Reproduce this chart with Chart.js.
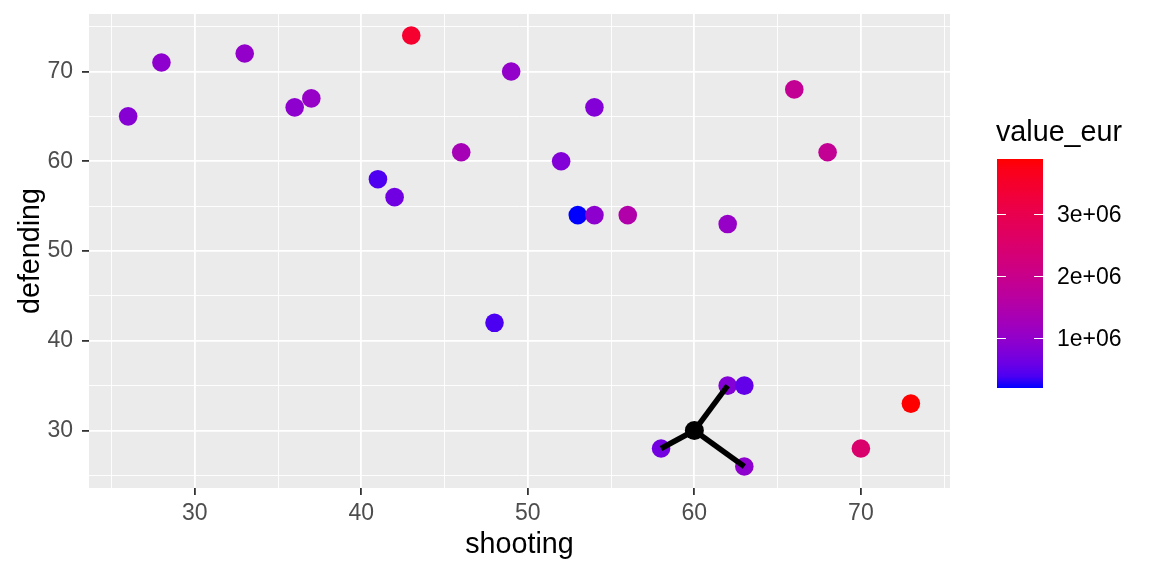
<!DOCTYPE html>
<html lang="en">
<head>
    <meta charset="UTF-8">
    <title>shooting vs defending</title>
    <script src="https://cdn.jsdelivr.net/npm/chart.js"></script>
    <style>
        html, body { margin: 0; padding: 0; background: #fff; }
        canvas { display: block; }
    </style>
</head>
<body>
    <canvas id="knnChart" width="1152" height="576"></canvas>

    <script>
        // Players: shooting (x), defending (y), market value (colour)
        const shooting  = [26, 28, 33, 36, 37, 41, 42, 43, 46, 48, 49, 52, 53, 54, 54, 56, 62, 62, 63, 58, 63, 66, 68, 70, 73];
        const defending = [65, 71, 72, 66, 67, 58, 56, 74, 61, 42, 70, 60, 54, 54, 66, 54, 53, 35, 35, 28, 26, 68, 61, 28, 33];
        const valueEur  = [850000, 950000, 1000000, 950000, 1050000, 400000, 630000, 3450000, 1300000, 380000,
                           1000000, 800000, 190000, 950000, 820000, 1500000, 1050000, 820000, 520000, 650000,
                           950000, 1850000, 1850000, 2500000, 3890000];

        // New observation and its three nearest neighbours
        const queryX = 60;
        const queryY = 30;
        const nbrX = [62, 58, 63];
        const nbrY = [35, 28, 26];

        // Colour bar ticks
        const legendTicks = [1000000, 2000000, 3000000];
        const legendLabels = ['1e+06', '2e+06', '3e+06'];

        const vMin = Math.min(...valueEur);
        const vMax = Math.max(...valueEur);

        // blue -> red gradient interpolated in CIELAB, like scale_colour_gradient
        function toLinear(c) { c /= 255; return c <= 0.04045 ? c / 12.92 : Math.pow((c + 0.055) / 1.055, 2.4); }
        function fromLinear(c) {
            c = c <= 0.0031308 ? 12.92 * c : 1.055 * Math.pow(c, 1 / 2.4) - 0.055;
            return Math.round(Math.min(1, Math.max(0, c)) * 255);
        }
        function rgbToLab(r, g, b) {
            r = toLinear(r); g = toLinear(g); b = toLinear(b);
            let x = (0.4124 * r + 0.3576 * g + 0.1805 * b) / 0.95047;
            let y = (0.2126 * r + 0.7152 * g + 0.0722 * b);
            let z = (0.0193 * r + 0.1192 * g + 0.9505 * b) / 1.08883;
            const f = t => t > 0.008856 ? Math.cbrt(t) : 7.787 * t + 16 / 116;
            x = f(x); y = f(y); z = f(z);
            return [116 * y - 16, 500 * (x - y), 200 * (y - z)];
        }
        function labToRgb(L, a, bb) {
            const fy = (L + 16) / 116, fx = fy + a / 500, fz = fy - bb / 200;
            const inv = t => t > 0.206893 ? t * t * t : (t - 16 / 116) / 7.787;
            const x = inv(fx) * 0.95047, y = inv(fy), z = inv(fz) * 1.08883;
            const r = 3.2406 * x - 1.5372 * y - 0.4986 * z;
            const g = -0.9689 * x + 1.8758 * y + 0.0415 * z;
            const b = 0.0557 * x - 0.2040 * y + 1.0570 * z;
            return 'rgb(' + fromLinear(r) + ',' + fromLinear(g) + ',' + fromLinear(b) + ')';
        }
        const labLow = rgbToLab(0, 0, 255);
        const labHigh = rgbToLab(255, 0, 0);
        function valueColour(v) {
            const t = Math.min(1, Math.max(0, (v - vMin) / (vMax - vMin)));
            return labToRgb(
                labLow[0] + (labHigh[0] - labLow[0]) * t,
                labLow[1] + (labHigh[1] - labLow[1]) * t,
                labLow[2] + (labHigh[2] - labLow[2]) * t
            );
        }

        const players = shooting.map((s, i) => ({ x: s, y: defending[i] }));
        const playerColours = valueEur.map(valueColour);

        const segmentSets = nbrX.map((nx, i) => ({
            type: 'line',
            data: [{ x: queryX, y: queryY }, { x: nx, y: nbrY[i] }],
            borderColor: '#000000',
            borderWidth: 5.5,
            borderCapStyle: 'butt',
            pointRadius: 0,
            fill: false,
            order: 1
        }));

        // grey panel
        const panelBg = {
            id: 'panelBg',
            beforeDraw(chart) {
                const a = chart.chartArea;
                const c = chart.ctx;
                c.save();
                c.fillStyle = '#EBEBEB';
                c.fillRect(a.left, a.top, a.right - a.left, a.bottom - a.top);
                c.restore();
            }
        };

        // colour bar legend on the right
        const colourBar = {
            id: 'colourBar',
            afterDraw(chart) {
                const c = chart.ctx;
                const left = 997, width = 46, top = 159, bottom = 388;
                const yOf = v => bottom - (v - vMin) / (vMax - vMin) * (bottom - top);
                c.save();
                const grad = c.createLinearGradient(0, bottom, 0, top);
                for (let k = 0; k <= 20; k++) {
                    grad.addColorStop(k / 20, valueColour(vMin + (vMax - vMin) * k / 20));
                }
                c.fillStyle = grad;
                c.fillRect(left, top, width, bottom - top);

                c.strokeStyle = '#FFFFFF';
                c.lineWidth = 1.1;
                c.fillStyle = '#000000';
                c.font = '23px "Liberation Sans", Arial, sans-serif';
                c.textAlign = 'left';
                c.textBaseline = 'middle';
                legendTicks.forEach((v, i) => {
                    const y = Math.round(yOf(v)) + 0.5;
                    c.beginPath();
                    c.moveTo(left, y); c.lineTo(left + 9, y);
                    c.moveTo(left + width - 9, y); c.lineTo(left + width, y);
                    c.stroke();
                    c.fillText(legendLabels[i], 1057, y + 1);
                });

                c.font = '28.7px "Liberation Sans", Arial, sans-serif';
                c.textBaseline = 'alphabetic';
                c.fillText('value_eur', 996, 141);
                c.restore();
            }
        };

        const isMajor = v => Math.abs(v % 10) < 1e-6;

        function axis(min, max, title, titlePad) {
            return {
                type: 'linear',
                min: min,
                max: max,
                border: { display: false },
                grid: {
                    color: '#FFFFFF',
                    lineWidth: ctx => isMajor(ctx.tick.value) ? 1.8 : 0.9,
                    tickColor: ctx => isMajor(ctx.tick.value) ? '#333333' : 'rgba(0,0,0,0)',
                    tickWidth: 1.8,
                    tickLength: 7
                },
                ticks: {
                    stepSize: 5,
                    includeBounds: false,
                    autoSkip: false,
                    maxRotation: 0,
                    color: '#4D4D4D',
                    font: { family: '"Liberation Sans", Arial, sans-serif', size: 23 },
                    callback: v => isMajor(v) ? v : ''
                },
                title: {
                    display: true,
                    text: title,
                    color: '#000000',
                    font: { family: '"Liberation Sans", Arial, sans-serif', size: 28.7 },
                    padding: titlePad
                }
            };
        }

        const noEdgePadding = scale => {
            scale.paddingTop = 0;
            scale.paddingBottom = 0;
            scale.paddingLeft = 0;
            scale.paddingRight = 0;
        };

        const xAxis = axis(23.65, 75.35, 'shooting', { top: 0, bottom: 14 });
        xAxis.ticks.padding = 5;
        xAxis.afterFit = scale => { scale.height = 88; noEdgePadding(scale); };

        const yAxis = axis(23.6, 76.4, 'defending', { top: 14, bottom: 0 });
        yAxis.ticks.padding = 9;
        yAxis.afterFit = scale => { scale.width = 89; noEdgePadding(scale); };

        new Chart(document.getElementById('knnChart'), {
            type: 'scatter',
            data: {
                datasets: [
                    {
                        data: [{ x: queryX, y: queryY }],
                        backgroundColor: '#000000',
                        pointRadius: 9.5,
                        pointBorderWidth: 0,
                        order: 0
                    },
                    ...segmentSets,
                    {
                        data: players,
                        backgroundColor: playerColours,
                        pointRadius: 9.3,
                        pointBorderWidth: 0,
                        order: 2
                    }
                ]
            },
            options: {
                responsive: false,
                animation: false,
                layout: { padding: { top: 14, right: 202, left: 0, bottom: 0 } },
                plugins: {
                    legend: { display: false },
                    tooltip: { enabled: false }
                },
                scales: { x: xAxis, y: yAxis }
            },
            plugins: [panelBg, colourBar]
        });
    </script>
</body>
</html>
